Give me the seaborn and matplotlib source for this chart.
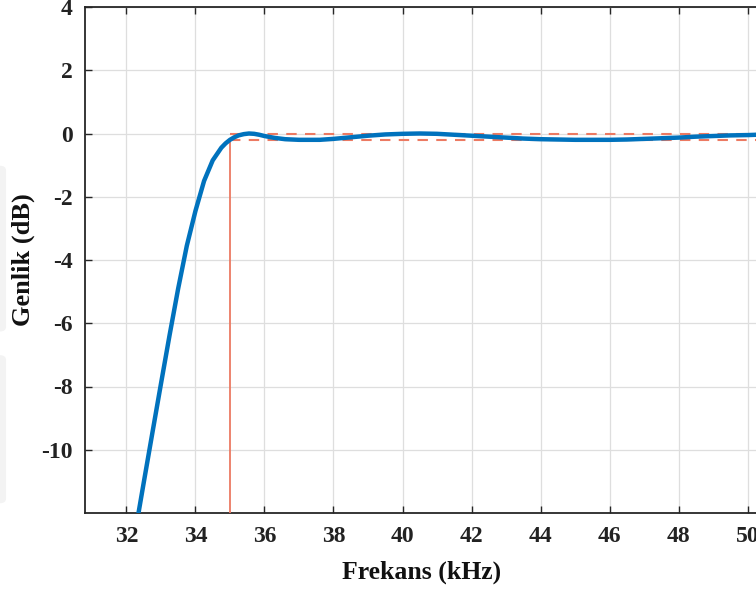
import matplotlib
matplotlib.use("Agg")
import matplotlib.pyplot as plt
from matplotlib.patches import FancyBboxPatch
import seaborn as sns
import pandas as pd

# Magnitude response of the high-pass filter (kHz, dB)
freq_khz = [32.35, 32.5, 32.75, 33.0, 33.25, 33.5, 33.75, 34.0, 34.25, 34.5,
            34.75, 34.875, 35.0, 35.125, 35.25, 35.4, 35.55, 35.7, 35.85, 36.0,
            36.3, 36.6, 37.0, 37.3, 37.6, 38.0, 38.5, 39.0, 39.5, 40.0,
            40.5, 41.0, 41.5, 42.0, 42.5, 43.0, 43.5, 44.0, 44.5, 45.0,
            45.5, 46.0, 46.5, 47.0, 47.5, 48.0, 48.5, 49.0, 49.5, 50.0,
            50.5]
gain_db = [-12.0, -11.05, -9.48, -7.92, -6.38, -4.9, -3.55, -2.45, -1.5, -0.85,
           -0.45, -0.31, -0.2, -0.12, -0.06, -0.02, 0.0, -0.01, -0.04, -0.08,
           -0.14, -0.18, -0.2, -0.2, -0.2, -0.17, -0.12, -0.07, -0.03, -0.01,
           0.0, -0.01, -0.04, -0.07, -0.1, -0.13, -0.16, -0.18, -0.19, -0.2,
           -0.2, -0.2, -0.19, -0.17, -0.15, -0.13, -0.1, -0.08, -0.06, -0.05,
           -0.03]

# Passband specification
edge_khz = 35.0
ripple_top_db = 0.0
ripple_bottom_db = -0.2

x_ticks = [32, 34, 36, 38, 40, 42, 44, 46, 48, 50]
y_ticks = [-10, -8, -6, -4, -2, 0, 2, 4]

sns.set_theme(style="white")
plt.rcParams["font.family"] = ["Liberation Serif", "DejaVu Serif"]
plt.rcParams["font.weight"] = "bold"
plt.rcParams["axes.unicode_minus"] = False

fig = plt.figure(figsize=(7.56, 5.92), dpi=100)
fig.patch.set_facecolor("white")

# faint shading along the left edge
for y0, h in [(0.44, 0.28), (0.15, 0.25)]:
    fig.patches.append(FancyBboxPatch((-0.01, y0), 0.018, h,
                                      boxstyle="round,pad=0,rounding_size=0.008",
                                      transform=fig.transFigure,
                                      facecolor="#f3f3f3", edgecolor="none"))

x_lo, x_hi = 30.8, 50.3
ax_left_px, ax_right_px = 85, 758
ax = fig.add_axes([ax_left_px / 756, 79 / 592,
                   (ax_right_px - ax_left_px) / 756, 506 / 592])

df = pd.DataFrame({"f": freq_khz, "g": gain_db})
sns.lineplot(data=df, x="f", y="g", ax=ax, color="#0072BD", linewidth=3.2,
             zorder=4, sort=False)

red = "#EC7A62"
ax.plot([edge_khz, x_hi], [ripple_top_db, ripple_top_db], color=red,
        linestyle=(0, (5, 4)), linewidth=1.5, zorder=3)
ax.plot([edge_khz, x_hi], [ripple_bottom_db, ripple_bottom_db], color=red,
        linestyle=(0, (5, 4)), linewidth=1.5, zorder=3)
ax.plot([edge_khz, edge_khz], [-12, ripple_bottom_db], color=red,
        linewidth=1.3, zorder=3)

ax.set_xlim(x_lo, x_hi)
ax.set_ylim(-12, 4)
ax.set_xticks(x_ticks)
ax.set_yticks(y_ticks)
ax.grid(True, color="#dedede", linewidth=0.9)
ax.set_axisbelow(True)

for s in ax.spines.values():
    s.set_color("#262626")
    s.set_linewidth(1.3)

ax.tick_params(direction="in", length=5, width=1.0, color="#262626",
               top=True, right=False, bottom=True, left=True,
               labelsize=17, pad=9)
for lab in ax.get_xticklabels() + ax.get_yticklabels():
    lab.set_fontweight("bold")
    lab.set_color("#222222")

ax.set_xlabel("Frekans (kHz)", fontsize=18.5, fontweight="bold", labelpad=10,
              color="#111111")
ax.set_ylabel("Genlik (dB)", fontsize=19, fontweight="bold", labelpad=4,
              color="#111111")

fig.savefig("out.png", dpi=100)
